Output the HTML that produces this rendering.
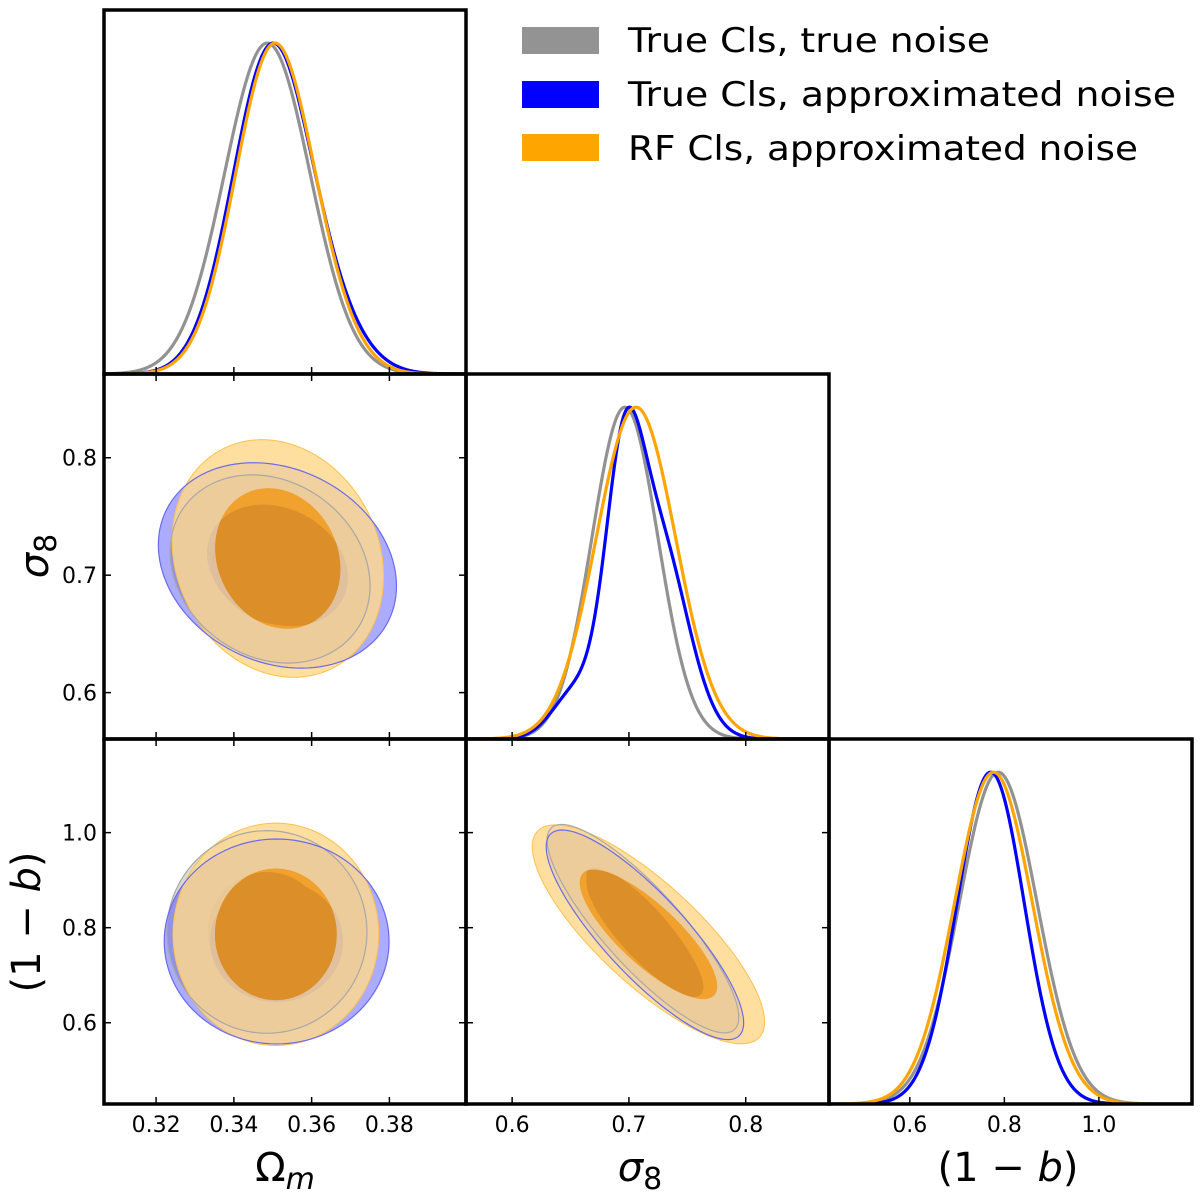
<!DOCTYPE html>
<html><head><meta charset="utf-8">
<style>
html,body{margin:0;padding:0;background:#fff;}
svg{display:block;font-family:"DejaVu Sans","Liberation Sans",sans-serif;}
</style></head>
<body>
<svg id="chart" width="1200" height="1198" viewBox="0 0 1200 1198" xmlns="http://www.w3.org/2000/svg">
<defs id="defs"></defs>
<g id="panels"></g>
<g id="legend">
  <rect x="522" y="27" width="77" height="27" fill="#939393"/>
  <text x="628" y="52" font-size="34" textLength="362" lengthAdjust="spacingAndGlyphs">True Cls, true noise</text>
  <rect x="522" y="81" width="77" height="27" fill="#0000ff"/>
  <text x="628" y="106" font-size="34" textLength="548" lengthAdjust="spacingAndGlyphs">True Cls, approximated noise</text>
  <text x="628" y="160" font-size="34" textLength="510" lengthAdjust="spacingAndGlyphs">RF Cls, approximated noise</text>
  <rect x="522" y="134" width="77" height="27" fill="#ffa500"/>
</g>
<g id="axis-labels">
  <text x="285" y="1181" font-size="40" text-anchor="middle">Ω<tspan font-style="italic" font-size="30" dy="8">m</tspan></text>
  <text x="640" y="1181" font-size="40" text-anchor="middle"><tspan font-style="italic">σ</tspan><tspan font-size="30" dy="8">8</tspan></text>
  <text x="1008" y="1181" font-size="40" text-anchor="middle">(1 − <tspan font-style="italic">b</tspan>)</text>
  <text transform="translate(48,556) rotate(-90)" font-size="40" text-anchor="middle"><tspan font-style="italic">σ</tspan><tspan font-size="30" dy="8">8</tspan></text>
  <text transform="translate(40,922) rotate(-90)" font-size="40" text-anchor="middle">(1 − <tspan font-style="italic">b</tspan>)</text>
</g>
</svg>
<script>
// ---- data ----
const seriesNames = ['true-cls-true-noise','true-cls-approx-noise','rf-cls-approx-noise'];
const paramNames = ['omega-m','sigma8','one-minus-b'];
const paramDomains = [[0.3066,0.3997],[0.5605,0.8713],[0.429,1.197]];
const paramTicks = [[0.32,0.34,0.36,0.38],[0.6,0.7,0.8],[0.6,0.8,1.0]];
const paramTickLabels = [['0.32','0.34','0.36','0.38'],['0.6','0.7','0.8'],['0.6','0.8','1.0']];

// 1D marginals: mixture components per series [gray, blue, orange]
const omMeans = [[0.3486],[0.3497,0.3655],[0.3504,0.3660]];
const omSds   = [[0.0110],[0.0100,0.0090],[0.0100,0.0080]];
const omAmps  = [[1],[1,0.10],[1,0.05]];
const s8Means = [[0.6966],[0.695,0.725,0.655],[0.706]];
const s8Sds   = [[0.0283],[0.016,0.025,0.020],[0.034]];
const s8Amps  = [[1],[0.55,0.5,0.12],[1]];
const bMeans  = [[0.787],[0.771],[0.777]];
const bSds    = [[0.0823],[0.0710],[0.0823]];
const bAmps   = [[1],[1],[1]];

// 2D contours: panel (omega-m, sigma8)
const omS8MeanX = [0.3493,0.3512,0.3513];
const omS8MeanY = [0.7053,0.7083,0.7142];
const omS8SdX   = [0.0105,0.0125,0.0111];
const omS8SdY   = [0.0327,0.0357,0.0413];
const omS8Rho   = [-0.18,-0.2,-0.15];
// panel (omega-m, 1-b)
const omBMeanX = [0.3485,0.3510,0.3508];
const omBMeanY = [0.791,0.771,0.786];
const omBSdX   = [0.0105,0.0118,0.0108];
const omBSdY   = [0.087,0.088,0.0955];
const omBRho   = [0,0,0];
// panel (sigma8, 1-b)
const s8BMeanX = [0.712,0.7137,0.7167];
const s8BMeanY = [0.798,0.785,0.786];
const s8BSdX   = [0.0335,0.0345,0.0406];
const s8BSdY   = [0.0895,0.090,0.094];
const s8BRho   = [-0.85,-0.84,-0.80];
const contourLevels = [1.45,2.45];

// ---- layout ----
const colX = [[104,466],[466,829],[829,1192]];
const rowY = [[10,374],[374,739],[739,1104]];
const NS = 'http://www.w3.org/2000/svg';
const root = document.getElementById('panels');
const defs = document.getElementById('defs');
function mk(tag, attrs, parent){
  const e = document.createElementNS(NS, tag);
  for (const k in attrs) e.setAttribute(k, attrs[k]);
  (parent||root).appendChild(e);
  return e;
}
function xScale(p){const d=paramDomains[p],c=colX[p];return v=>c[0]+(v-d[0])*(c[1]-c[0])/(d[1]-d[0]);}
function yScale(p){const d=paramDomains[p],r=rowY[p];return v=>r[1]-(v-d[0])*(r[1]-r[0])/(d[1]-d[0]);}

const lineColors = ['#929292','#0000ff','#ffa500'];
const margMeans = [omMeans,s8Means,bMeans];
const margSds = [omSds,s8Sds,bSds];
const margAmps = [omAmps,s8Amps,bAmps];

// 1D panels
for (let p=0;p<3;p++){
  const g = mk('g',{});
  
  
  const cl = mk('clipPath',{id:'clip1d'+p},defs);
  mk('rect',{x:colX[p][0],y:rowY[p][0],width:colX[p][1]-colX[p][0],height:rowY[p][1]-rowY[p][0]},cl);
  const xs = xScale(p), d = paramDomains[p];
  const top = rowY[p][0], bot = rowY[p][1], h = bot-top;
  for (let s=0;s<3;s++){
    const N=300, vals=[], xsv=[];
    let mx=0;
    for(let i=0;i<=N;i++){
      const v=d[0]+(d[1]-d[0])*i/N; let dens=0;
      const M=margMeans[p][s], S=margSds[p][s], A=margAmps[p][s];
      for(let c=0;c<M.length;c++){const z=(v-M[c])/S[c]; dens+=A[c]*Math.exp(-0.5*z*z);}
      vals.push(dens); xsv.push(v); if(dens>mx) mx=dens;
    }
    let dstr='';
    for(let i=0;i<=N;i++){
      const px=xs(xsv[i]), py=bot-(vals[i]/mx)/1.1*h;
      dstr+=(i?'L':'M')+px.toFixed(2)+','+py.toFixed(2);
    }
    const path = mk('path',{d:dstr,fill:'none',stroke:lineColors[s],'stroke-width':3.2,'clip-path':'url(#clip1d'+p+')'},g);
    
    
  }
}

// 2D panels
const panels2d = [
  {px:0,py:1,mx:omS8MeanX,my:omS8MeanY,sx:omS8SdX,sy:omS8SdY,r:omS8Rho},
  {px:0,py:2,mx:omBMeanX,my:omBMeanY,sx:omBSdX,sy:omBSdY,r:omBRho},
  {px:1,py:2,mx:s8BMeanX,my:s8BMeanY,sx:s8BSdX,sy:s8BSdY,r:s8BRho}
];
function ellPath(P,s,k){
  const xs=xScale(P.px), ys=yScale(P.py);
  let d='';
  const N=120, q=Math.sqrt(1-P.r[s]*P.r[s]);
  for(let i=0;i<N;i++){
    const t=2*Math.PI*i/N;
    const vx=P.mx[s]+P.sx[s]*k*Math.cos(t);
    const vy=P.my[s]+P.sy[s]*k*(P.r[s]*Math.cos(t)+q*Math.sin(t));
    d+=(i?'L':'M')+xs(vx).toFixed(2)+','+ys(vy).toFixed(2);
  }
  return d+'Z';
}
panels2d.forEach((P,idx)=>{
  const g = mk('g',{});
  
  
  const cl = mk('clipPath',{id:'clip2d'+idx},defs);
  mk('rect',{x:colX[P.px][0],y:rowY[P.py][0],width:colX[P.px][1]-colX[P.px][0],height:rowY[P.py][1]-rowY[P.py][0]},cl);
  const gg = mk('g',{'clip-path':'url(#clip2d'+idx+')'},g);
  const k1=contourLevels[0], k2=contourLevels[1];
  const fills = [['rgba(128,128,128,0.3)','rgba(128,128,128,0.45)'],['rgba(0,0,255,0.33)','rgba(0,0,255,0.5)']];
  for(let s=0;s<2;s++){
    const o = mk('path',{d:ellPath(P,s,k2),fill:fills[s][0]},gg);
    
    
    const i = mk('path',{d:ellPath(P,s,k1),fill:fills[s][1]},gg);
    
    
  }
  const oo = mk('path',{d:ellPath(P,2,k2),fill:'rgb(255,216,140)','fill-opacity':0.83,stroke:'#ffc04d','stroke-width':1},gg);
  
  
  const gl = mk('path',{d:ellPath(P,0,k2),fill:'none',stroke:'#a8a8a8','stroke-width':1.2},gg);
  
  
  const bl = mk('path',{d:ellPath(P,1,k2),fill:'none',stroke:'#6a6af0','stroke-width':1.2},gg);
  
  
  const oi = mk('path',{d:ellPath(P,2,k1),fill:'#f0a12e'},gg);
  
  
  const ic = mk('clipPath',{id:'inner'+idx},defs);
  mk('path',{d:ellPath(P,2,k1)},ic);
  const ov = mk('g',{'clip-path':'url(#inner'+idx+')'},gg);
  mk('path',{d:ellPath(P,1,k1),fill:'#dc8f28'},ov);
  mk('path',{d:ellPath(P,0,k1),fill:'#dc8f28'},ov);
});

// frames, ticks, labels
const cells = [[0,0],[0,1],[1,1],[0,2],[1,2],[2,2]];
cells.forEach(([c,r])=>{
  const x0=colX[c][0],x1=colX[c][1],y0=rowY[r][0],y1=rowY[r][1];
  const g = mk('g',{});
  
  
  const xs=xScale(c);
  paramTicks[c].forEach(v=>{
    mk('line',{x1:xs(v),x2:xs(v),y1:y1,y2:y1-7,stroke:'#000','stroke-width':1.5},g);
    if(c!==r) mk('line',{x1:xs(v),x2:xs(v),y1:y0,y2:y0+7,stroke:'#000','stroke-width':1.5},g);
  });
  if(c!==r){
    const ys=yScale(r);
    paramTicks[r].forEach(v=>{
      mk('line',{x1:x0,x2:x0+7,y1:ys(v),y2:ys(v),stroke:'#000','stroke-width':1.5},g);
      mk('line',{x1:x1,x2:x1-7,y1:ys(v),y2:ys(v),stroke:'#000','stroke-width':1.5},g);
    });
  }
  mk('rect',{x:x0,y:y0,width:x1-x0,height:y1-y0,fill:'none',stroke:'#000','stroke-width':3.5},g);
});
// x tick labels (bottom row)
for(let p=0;p<3;p++){
  const xs=xScale(p);
  paramTicks[p].forEach((v,i)=>{
    const t=mk('text',{x:xs(v),y:1132,'font-size':22,'text-anchor':'middle'});
    t.textContent=paramTickLabels[p][i];
    
    
  });
}
// y tick labels (left column)
for(let p=1;p<3;p++){
  const ys=yScale(p);
  paramTicks[p].forEach((v,i)=>{
    const t=mk('text',{x:97,y:ys(v)+8,'font-size':22,'text-anchor':'end'});
    t.textContent=paramTickLabels[p][i];
    
    
  });
}
</script>
</body></html>
